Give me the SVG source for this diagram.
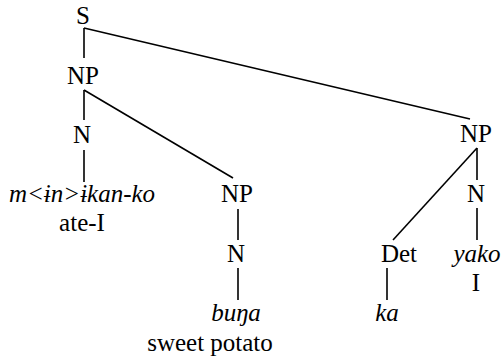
<svg xmlns="http://www.w3.org/2000/svg" width="501" height="360" viewBox="0 0 501 360">
<style>
.t{font-size:25px;fill:#000;text-anchor:middle}
.i{font-style:italic}
.c line{stroke:#000;stroke-width:1.6}
</style>
<rect width="501" height="360" fill="#fff"/>
<g id="connectors" class="c">
<line x1="84" y1="28" x2="84" y2="58"/>
<line x1="84" y1="28" x2="470" y2="119"/>
<line x1="84" y1="90" x2="84" y2="120"/>
<line x1="84" y1="90" x2="233" y2="178"/>
<line x1="84" y1="150" x2="84" y2="182"/>
<line x1="238" y1="209" x2="238" y2="240"/>
<line x1="238" y1="268" x2="238" y2="300"/>
<line x1="477" y1="148" x2="477" y2="180"/>
<line x1="477" y1="148" x2="393" y2="240"/>
<line x1="477" y1="208" x2="477" y2="240"/>
<line x1="387" y1="268" x2="387" y2="300"/>
</g>
<g class="t" font-family="'Times New Roman', 'Liberation Serif', 'DejaVu Serif', serif">
<g id="S"><text x="83" y="24">S</text></g>
<g id="NP1"><text x="83" y="84">NP</text></g>
<g id="N1"><text x="82" y="143">N</text></g>
<g id="word1"><text x="82" y="202" class="i">m&lt;ɨn&gt;ɨkan-ko</text><text x="82" y="231">ate-I</text></g>
<g id="NP2"><text x="237" y="202">NP</text></g>
<g id="N2"><text x="236" y="262">N</text></g>
<g id="word2"><text x="236" y="321" class="i">buŋa</text><text x="210" y="351">sweet potato</text></g>
<g id="NP3"><text x="476" y="142">NP</text></g>
<g id="Det"><text x="399" y="262">Det</text></g>
<g id="word3"><text x="387" y="321" class="i">ka</text></g>
<g id="N3"><text x="476" y="202">N</text></g>
<g id="word4"><text x="477" y="262" class="i">yako</text><text x="476" y="291">I</text></g>
</g>
</svg>
